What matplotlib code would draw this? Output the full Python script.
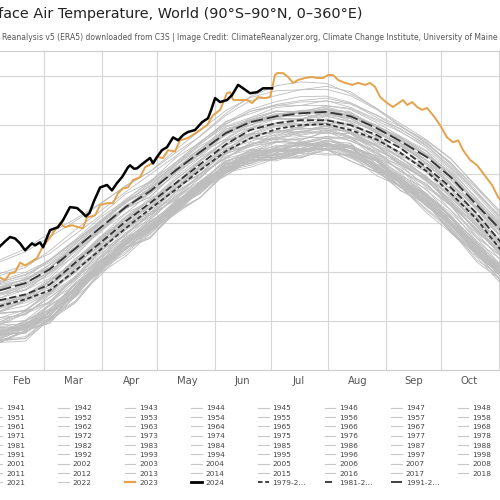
import matplotlib
matplotlib.use("Agg")
import matplotlib.pyplot as plt
from matplotlib.lines import Line2D
import numpy as np

# day-of-year positions where the climatologies and the grey years are read
ref_days = [36, 50, 63, 77, 90, 104, 117, 131, 144, 158, 171, 185, 198, 212, 225, 239, 252, 266, 279, 293, 306]

mean_1979_2000 = [12.30, 12.44, 12.62, 13.03, 13.44, 13.89, 14.28, 14.68, 15.07, 15.46, 15.72,
                  15.91, 15.99, 16.01, 15.89, 15.70, 15.42, 15.05, 14.60, 14.07, 13.44]
mean_1981_2010 = [12.42, 12.54, 12.74, 13.19, 13.58, 14.03, 14.40, 14.81, 15.19, 15.60, 15.89,
                  16.03, 16.09, 16.09, 15.99, 15.79, 15.52, 15.13, 14.72, 14.19, 13.60]
mean_1991_2020 = [12.62, 12.77, 13.05, 13.48, 13.89, 14.32, 14.64, 15.07, 15.44, 15.83, 16.05,
                  16.17, 16.23, 16.26, 16.17, 15.93, 15.66, 15.34, 14.93, 14.36, 13.85]

# grey years 1940-2022, hundredths of a degree away from the 1991-2020 mean at ref_days
grey_years = list(range(1940, 2023))
grey_anom = [
    [-78,-89,-74,-83,-69,-76,-68,-61,-73,-63,-73,-64,-59,-66,-70,-66,-85,-80,-81,-89,-78],
    [-87,-76,-84,-69,-75,-65,-76,-66,-60,-68,-57,-71,-64,-70,-59,-59,-78,-75,-91,-81,-87],
    [-82,-95,-85,-95,-77,-68,-79,-80,-70,-62,-73,-68,-81,-68,-63,-82,-79,-96,-91,-84,-88],
    [-89,-82,-94,-79,-67,-77,-70,-74,-63,-74,-64,-71,-62,-70,-63,-82,-74,-83,-96,-81,-79],
    [-70,-84,-71,-65,-67,-69,-57,-52,-64,-57,-65,-53,-63,-53,-65,-57,-70,-65,-83,-73,-75],
    [-91,-83,-88,-72,-80,-66,-61,-72,-66,-74,-61,-67,-72,-57,-66,-68,-86,-79,-82,-88,-72],
    [-89,-101,-86,-92,-79,-87,-74,-70,-83,-72,-66,-80,-73,-77,-63,-83,-80,-100,-96,-90,-96],
    [-91,-81,-94,-82,-86,-68,-75,-69,-65,-76,-68,-81,-67,-65,-72,-67,-88,-85,-89,-95,-79],
    [-89,-102,-94,-83,-90,-77,-88,-73,-77,-79,-70,-85,-74,-66,-76,-87,-79,-97,-94,-99,-88],
    [-105,-96,-110,-94,-80,-86,-79,-88,-79,-73,-85,-78,-89,-73,-71,-89,-90,-90,-109,-97,-104],
    [-102,-113,-104,-111,-93,-82,-95,-85,-93,-77,-88,-82,-91,-76,-91,-90,-93,-109,-108,-116,-101],
    [-100,-91,-96,-82,-87,-75,-71,-80,-71,-82,-72,-70,-79,-63,-73,-76,-93,-89,-100,-89,-95],
    [-88,-100,-85,-91,-71,-78,-71,-66,-80,-69,-81,-70,-72,-75,-63,-81,-78,-98,-91,-91,-91],
    [-75,-90,-81,-73,-82,-66,-73,-63,-66,-73,-61,-70,-60,-70,-61,-62,-81,-78,-95,-81,-79],
    [-106,-97,-109,-97,-85,-95,-82,-86,-76,-86,-76,-91,-80,-74,-85,-86,-100,-93,-111,-99,-101],
    [-101,-109,-98,-107,-89,-81,-93,-82,-93,-82,-78,-88,-76,-85,-80,-97,-92,-106,-104,-112,-93],
    [-106,-118,-101,-109,-92,-100,-86,-88,-93,-80,-92,-86,-91,-77,-91,-90,-92,-114,-113,-106,-109],
    [-82,-93,-87,-93,-72,-70,-81,-64,-74,-65,-76,-64,-76,-65,-61,-77,-77,-93,-84,-93,-80],
    [-74,-81,-90,-77,-79,-62,-68,-76,-62,-69,-57,-72,-63,-62,-72,-65,-80,-76,-93,-81,-86],
    [-96,-86,-94,-83,-89,-70,-78,-66,-71,-78,-67,-81,-72,-61,-74,-75,-92,-84,-97,-86,-92],
    [-92,-100,-87,-99,-78,-72,-81,-71,-84,-71,-67,-78,-72,-78,-64,-84,-83,-99,-92,-97,-81],
    [-94,-85,-81,-87,-69,-74,-63,-77,-67,-63,-76,-68,-64,-69,-71,-65,-77,-89,-83,-94,-80],
    [-83,-88,-96,-80,-81,-66,-79,-71,-65,-74,-67,-66,-80,-64,-70,-81,-76,-84,-97,-82,-92],
    [-88,-77,-81,-86,-72,-75,-63,-65,-77,-60,-69,-63,-66,-71,-56,-73,-73,-89,-85,-80,-88],
    [-103,-112,-99,-99,-98,-84,-96,-81,-76,-87,-78,-87,-81,-88,-78,-85,-101,-96,-112,-101,-104],
    [-107,-98,-104,-89,-83,-91,-82,-76,-85,-77,-71,-86,-79,-70,-83,-82,-94,-94,-113,-99,-91],
    [-83,-95,-87,-94,-77,-70,-80,-82,-69,-70,-78,-67,-77,-66,-61,-83,-78,-88,-99,-90,-93],
    [-97,-89,-102,-86,-80,-83,-69,-78,-70,-81,-71,-71,-80,-64,-75,-78,-79,-98,-94,-97,-85],
    [-91,-90,-100,-90,-90,-77,-75,-85,-74,-70,-79,-76,-86,-69,-71,-88,-84,-87,-105,-96,-95],
    [-86,-78,-73,-81,-61,-68,-62,-71,-61,-56,-67,-59,-67,-59,-55,-75,-70,-80,-78,-87,-72],
    [-80,-91,-82,-73,-77,-65,-78,-66,-62,-68,-62,-75,-59,-68,-62,-65,-82,-80,-95,-77,-82],
    [-98,-93,-102,-89,-76,-84,-78,-72,-83,-73,-83,-74,-72,-77,-82,-77,-86,-98,-93,-104,-89],
    [-76,-86,-74,-83,-69,-61,-72,-64,-72,-60,-57,-68,-62,-70,-60,-63,-66,-76,-78,-78,-70],
    [-59,-63,-58,-61,-61,-52,-59,-53,-59,-59,-57,-62,-57,-59,-61,-63,-72,-74,-82,-77,-78],
    [-102,-100,-92,-97,-81,-74,-84,-76,-71,-79,-71,-84,-76,-66,-78,-79,-95,-89,-103,-92,-94],
    [-86,-83,-94,-79,-82,-72,-66,-76,-68,-76,-68,-67,-79,-65,-62,-77,-77,-95,-91,-95,-78],
    [-103,-97,-106,-88,-84,-86,-75,-83,-75,-76,-84,-76,-82,-67,-80,-78,-87,-101,-94,-95,-86],
    [-71,-62,-69,-59,-66,-53,-48,-60,-52,-47,-56,-50,-60,-50,-45,-61,-57,-68,-67,-74,-60],
    [-67,-76,-65,-75,-59,-62,-54,-56,-66,-52,-61,-51,-61,-53,-61,-57,-58,-76,-73,-67,-72],
    [-68,-61,-57,-64,-48,-55,-48,-59,-44,-51,-46,-45,-54,-40,-51,-47,-62,-59,-58,-67,-51],
    [-46,-56,-43,-46,-50,-37,-45,-33,-45,-37,-34,-48,-39,-44,-35,-36,-48,-45,-59,-48,-52],
    [-37,-40,-49,-39,-44,-36,-31,-42,-34,-42,-32,-39,-29,-38,-30,-46,-40,-39,-52,-43,-49],
    [-64,-58,-66,-56,-58,-46,-53,-43,-51,-43,-45,-43,-45,-38,-41,-42,-45,-47,-54,-50,-44],
    [-33,-36,-31,-35,-34,-34,-39,-30,-39,-32,-40,-32,-40,-29,-35,-43,-44,-50,-50,-53,-48],
    [-55,-65,-52,-61,-47,-57,-48,-45,-54,-41,-50,-46,-55,-41,-44,-55,-49,-62,-58,-63,-54],
    [-65,-57,-67,-56,-53,-58,-44,-54,-45,-51,-42,-54,-47,-54,-44,-51,-62,-54,-68,-57,-62],
    [-47,-56,-49,-58,-41,-41,-48,-37,-45,-38,-47,-41,-36,-43,-35,-51,-45,-44,-57,-49,-44],
    [-43,-36,-40,-31,-38,-27,-35,-24,-29,-34,-24,-33,-27,-24,-32,-27,-33,-42,-35,-36,-43],
    [-22,-26,-24,-25,-24,-25,-26,-29,-23,-30,-32,-29,-33,-30,-34,-36,-41,-42,-47,-44,-45],
    [-56,-54,-51,-42,-44,-34,-44,-36,-32,-41,-33,-45,-37,-33,-42,-35,-41,-49,-46,-43,-38],
    [-22,-32,-24,-34,-21,-26,-18,-29,-20,-15,-27,-21,-29,-17,-19,-31,-22,-26,-35,-26,-32],
    [-30,-28,-37,-27,-31,-25,-32,-25,-32,-24,-29,-33,-31,-34,-31,-35,-34,-41,-40,-41,-36],
    [-43,-46,-47,-47,-44,-44,-48,-49,-48,-50,-49,-53,-51,-51,-49,-51,-53,-57,-56,-52,-50],
    [-47,-57,-45,-50,-37,-46,-40,-35,-44,-36,-47,-36,-43,-36,-44,-37,-49,-46,-51,-56,-42],
    [-45,-36,-47,-36,-34,-39,-27,-36,-29,-34,-26,-30,-38,-27,-34,-33,-32,-44,-37,-38,-32],
    [-20,-23,-29,-20,-29,-20,-15,-26,-18,-16,-23,-15,-24,-16,-25,-20,-30,-23,-32,-25,-28],
    [-42,-35,-31,-39,-26,-33,-26,-27,-36,-26,-24,-33,-27,-21,-31,-26,-35,-31,-43,-31,-37],
    [-27,-26,-23,-25,-22,-19,-20,-18,-16,-16,-13,-13,-12,-9,-10,-8,-8,-7,-6,-4,-3],
    [16,18,14,12,10,8,6,4,7,3,5,2,4,1,0,-6,-10,-12,-18,-20,-22],
    [-36,-35,-32,-29,-26,-20,-27,-19,-17,-23,-16,-18,-25,-14,-18,-17,-27,-22,-26,-32,-22],
    [-31,-24,-20,-29,-18,-24,-18,-28,-18,-14,-24,-19,-16,-24,-14,-25,-22,-31,-24,-24,-31],
    [-16,-6,-13,-4,-10,-2,-12,-5,-1,-13,-6,-4,-11,-1,-9,-5,-4,-13,-4,-8,-5],
    [6,8,4,2,-5,3,-4,2,-6,1,0,-5,3,-4,2,4,1,3,4,2,4],
    [4,1,-6,0,-7,1,4,-4,2,-5,3,0,-6,5,1,-4,2,-7,0,4,-5],
    [-6,-15,-7,-15,-6,-3,-11,-4,-10,-2,-12,-5,-13,-5,-3,-11,-3,-7,-14,-5,-11],
    [2,10,3,9,10,0,7,6,-1,8,2,10,1,6,9,0,7,11,3,9,2],
    [-8,-4,-6,3,-2,4,-5,2,6,-3,4,-2,5,-4,3,6,2,5,8,6,9],
    [12,6,4,2,0,1,-4,2,-5,0,-6,1,-4,-7,-5,-8,-10,-7,-12,-10,-14],
    [-31,-30,-25,-22,-19,-13,-20,-14,-11,-18,-11,-14,-21,-9,-12,-18,-14,-16,-14,-18,-13],
    [-6,-8,-4,-6,-3,-2,-4,0,-2,2,4,3,6,4,7,5,8,6,9,7,10],
    [20,22,18,15,12,13,10,11,6,12,5,10,4,10,5,3,5,3,2,5,2],
    [-16,-14,-18,-11,-5,-13,-4,-10,-3,-11,-2,-6,-12,-2,-4,-10,-5,-14,-13,-8,-13],
    [-10,-12,-8,-6,1,-4,3,0,-5,4,2,-4,3,1,4,0,3,2,1,4,0],
    [6,-1,4,-3,5,0,7,-2,4,8,-1,6,0,7,-1,4,8,5,0,6,7],
    [2,4,9,3,9,11,4,10,12,3,8,11,2,12,14,11,10,13,12,14,12],
    [18,16,20,18,21,14,21,16,21,19,22,21,23,22,25,27,30,33,37,38,36],
    [62,70,74,60,50,42,40,36,32,36,44,42,48,52,50,40,32,30,28,34,32],
    [34,37,32,29,25,27,19,26,19,24,17,23,16,23,18,18,26,23,22,25,21],
    [8,7,10,9,15,9,16,10,17,14,9,18,16,13,16,15,19,22,19,21,17],
    [30,32,38,38,34,31,34,29,33,40,52,62,64,58,46,40,36,35,38,36,37],
    [58,64,66,56,48,44,40,42,44,46,50,52,48,46,42,38,30,28,26,24,28],
    [-6,-2,2,4,8,10,12,14,16,18,22,24,26,28,26,22,20,18,16,12,14],
    [14,12,18,16,14,16,18,16,20,22,26,30,34,32,28,26,24,26,30,28,24],
]

days_2023 = [36, 39, 41.7, 44.4, 47.1, 49.8, 52.5, 56.2, 58.9, 63.2, 65.9, 68.6, 71.3, 75.1, 78.3,
             81, 83.2, 87.5, 90.2, 93.9, 97.1, 99.8, 102.5, 105.2, 107.9, 111.7, 114.4, 118.1,
             120.8, 124.1, 126.8, 130.5, 133.2, 137, 140.2, 144, 147.8, 151, 154.8, 158.5, 160.2,
             161.9, 165.5, 169.3, 172, 175.2, 179, 181.7, 184.4, 185.5, 188.7, 191.4, 194.1, 196.8,
             200.5, 204.3, 207, 210.2, 212.9, 215.6, 218.3, 222.1, 225.9, 229.1, 232.9, 235.5,
             238.2, 241, 244.7, 247.9, 251.7, 253.3, 255.5, 258.2, 260.9, 263.5, 266.2, 269.5,
             273.2, 277, 280.2, 283, 285.6, 289.4, 293.2, 296.4, 301.2, 304.5, 306]
temp_2023 = [12.89, 12.83, 12.97, 12.99, 13.19, 13.13, 13.19, 13.28, 13.48, 13.70, 13.85, 13.99,
             13.91, 13.95, 13.91, 13.89, 14.11, 14.15, 14.36, 14.40, 14.40, 14.60, 14.70, 14.72,
             14.87, 14.93, 15.13, 15.21, 15.34, 15.32, 15.48, 15.45, 15.68, 15.72, 15.79, 15.89,
             15.99, 16.19, 16.30, 16.64, 16.66, 16.50, 16.50, 16.50, 16.44, 16.56, 16.54, 16.56,
             17.01, 17.05, 17.05, 16.97, 16.85, 16.91, 16.95, 16.97, 16.95, 16.95, 17.01, 17.01,
             16.91, 16.85, 16.81, 16.85, 16.81, 16.85, 16.77, 16.56, 16.44, 16.36, 16.46, 16.50,
             16.40, 16.46, 16.36, 16.30, 16.34, 16.19, 15.99, 15.74, 15.64, 15.68, 15.48, 15.28,
             15.17, 15.01, 14.77, 14.52, 14.45]

days_2024 = [36, 39, 41.7, 44.4, 47.1, 49.8, 53.5, 55.2, 57.8, 59.5, 63.2, 67.5, 70.2, 74, 77.8,
             80.5, 82.5, 84.5, 87, 90.2, 93.9, 96.6, 99.3, 102, 105.2, 106.3, 108.5, 110.1, 113.3,
             117.1, 118.7, 121, 123.5, 126.2, 129.5, 132.2, 134.9, 137.5, 141.3, 145.1, 148.3, 150,
             152.1, 154.8, 158.5, 161.2, 164.5, 167.2, 170.9, 174.7, 177.9, 182.8]
temp_2024 = [13.51, 13.62, 13.71, 13.68, 13.58, 13.44, 13.58, 13.54, 13.60, 13.50, 13.85, 13.91,
             14.05, 14.32, 14.30, 14.21, 14.13, 14.20, 14.45, 14.72, 14.77, 14.66, 14.81, 14.93,
             15.13, 15.17, 15.10, 15.11, 15.21, 15.32, 15.21, 15.35, 15.48, 15.54, 15.74, 15.68,
             15.79, 15.85, 15.89, 16.05, 16.13, 16.30, 16.54, 16.46, 16.50, 16.60, 16.81, 16.74,
             16.64, 16.66, 16.74, 16.74]

month_starts = [60, 91, 121, 152, 182, 213, 244, 274, 305]
month_mids = [48, 76, 107, 137, 167, 197, 229, 259, 289]
month_names = ["Feb", "Mar", "Apr", "May", "Jun", "Jul", "Aug", "Sep", "Oct"]

mean_labels = ["1979-2...", "1981-2...", "1991-2..."]

GREY = "#bdbdbd"
ORANGE = "#e6a24a"
DARK = "#333333"


def fx(px):
    return px / 500.0


def fy(py):
    return 1 - py / 500.0


fig = plt.figure(figsize=(5, 5), dpi=100)
ax = fig.add_axes([0, 0.26, 1, 0.638])

clim = np.array(mean_1991_2020)
for yr, row in zip(grey_years, grey_anom):
    ax.plot(ref_days, clim + np.array(row) / 100.0, color=GREY, lw=0.6, zorder=2)

ax.plot(ref_days, mean_1979_2000, color=DARK, lw=1.3, dashes=(2.5, 1.5), zorder=3)
ax.plot(ref_days, mean_1981_2010, color=DARK, lw=1.3, dashes=(3.9, 1.7), zorder=3)
ax.plot(ref_days, mean_1991_2020, color=DARK, lw=1.3, dashes=(6.7, 2.2), zorder=3)
ax.plot(days_2023, temp_2023, color=ORANGE, lw=1.4, zorder=4)
ax.plot(days_2024, temp_2024, color="black", lw=1.8, zorder=5)

ax.set_xlim(36.3, 305.5)
ax.set_ylim(11, 17.5)
ax.set_xticks(month_starts)
ax.set_xticklabels([])
ax.set_xticks(month_mids, minor=True)
ax.set_xticklabels(month_names, minor=True)
ax.set_yticks(range(12, 18))
ax.set_yticklabels([])
ax.grid(which="major", color="#d6d6d6", lw=0.8)
ax.tick_params(which="both", length=0)
ax.tick_params(which="minor", labelsize=7.2, labelcolor="#555555", pad=4)
for side in ["left", "right"]:
    ax.spines[side].set_visible(False)
for side in ["top", "bottom"]:
    ax.spines[side].set_color("#cccccc")
    ax.spines[side].set_linewidth(0.8)

fig.text(fx(362), fy(18), "Surface Air Temperature, World (90°S–90°N, 0–360°E)",
         ha="right", va="baseline", fontsize=10.35, color="#222222")
fig.text(fx(498), fy(39.5),
         "Dataset: ECMWF Reanalysis v5 (ERA5) downloaded from C3S | Image Credit: "
         "ClimateReanalyzer.org, Climate Change Institute, University of Maine",
         ha="right", va="baseline", fontsize=5.5, color="#555555")

# legend, 10 columns, laid out by hand so columns keep a fixed width
labels = [str(y) for y in range(1940, 2025)] + mean_labels
for i, lab in enumerate(labels):
    col, row = i % 10, i // 10
    x0 = -75 + col * 66.6
    y = 407.7 + row * 9.33
    if lab == "2023":
        style = dict(color=ORANGE, lw=1.6)
    elif lab == "2024":
        style = dict(color="black", lw=2.0)
    elif lab == mean_labels[0]:
        style = dict(color=DARK, lw=1.3, dashes=(2.5, 1.5))
    elif lab == mean_labels[1]:
        style = dict(color=DARK, lw=1.3, dashes=(3.9, 1.7))
    elif lab == mean_labels[2]:
        style = dict(color=DARK, lw=1.3, dashes=(6.7, 2.2))
    else:
        style = dict(color="#c8c8c8", lw=0.8)
    fig.add_artist(Line2D([fx(x0), fx(x0 + 10.5)], [fy(y), fy(y)],
                          transform=fig.transFigure, **style))
    fig.text(fx(x0 + 14.5), fy(y), lab, fontsize=5.3, color="#444444",
             ha="left", va="center_baseline")

fig.savefig("out.png", dpi=100)
